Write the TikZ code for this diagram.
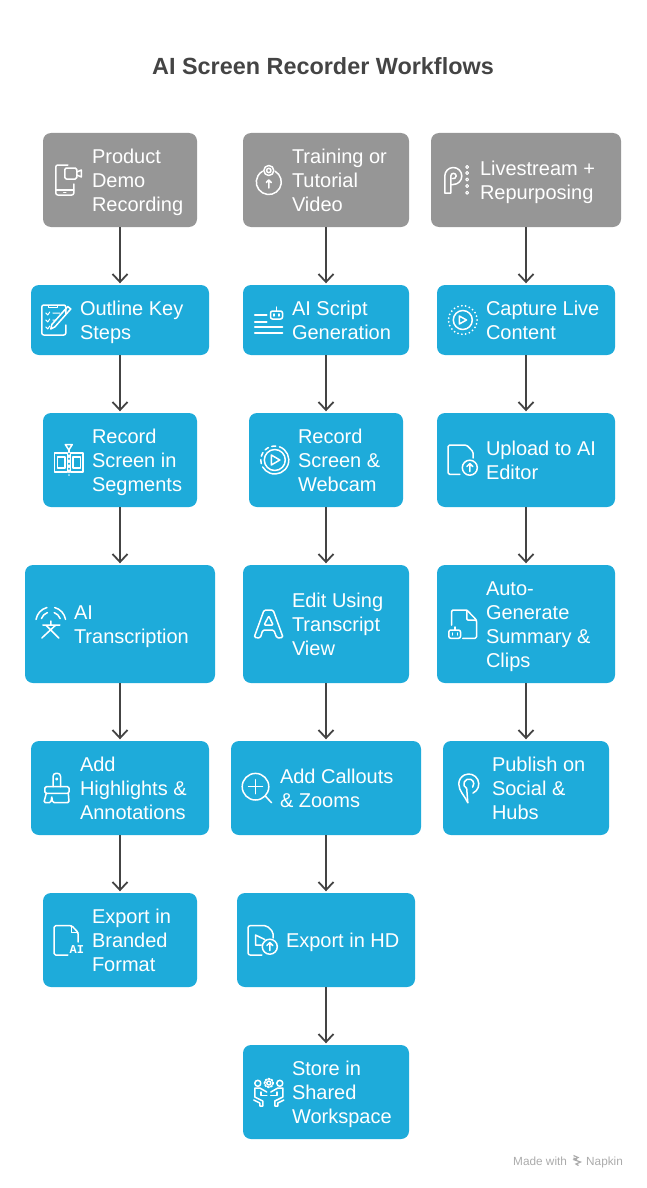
\documentclass[tikz,border=0pt]{standalone}
\usepackage{fontspec}
\setmainfont{Liberation Sans}
\setmonofont{Liberation Mono}
\usetikzlibrary{positioning,arrows.meta}
\definecolor{stepblue}{HTML}{1EABDA}
\definecolor{headgray}{HTML}{969696}
\definecolor{inkgray}{HTML}{444444}
\definecolor{markgray}{HTML}{ABABAB}

\tikzset{
    head/.style 2 args={rectangle, rounded corners=8pt, fill=headgray, minimum width=#1pt, minimum height=#2pt},
    task/.style 2 args={rectangle, rounded corners=8pt, fill=stepblue, minimum width=#1pt, minimum height=#2pt},
    lbl/.style={inner sep=0, yshift=-2.7pt, text depth=4.3pt, text=white, align=left, font=\fontsize{20}{24}\selectfont},
    flow/.style={draw=inkgray, line width=1.8pt, -{Straight Barb[length=8pt,width=15pt]}, shorten >=1.5pt},
    icon/.style={draw=white, line width=1.5pt, line cap=round, line join=round},
    phonecam/.pic={
        \draw[icon, rounded corners=2pt] (-1,-15) -- (-13,-15) -- (-13,15) -- (5,15) -- (5,4);
        \draw[icon] (-13,10) -- (5,10) (-5,12.5) -- (-3,12.5);
        \draw[icon, rounded corners=1.5pt] (-4,-12) rectangle (8,-1);
        \draw[icon] (8,-8) -- (12.5,-10) -- (12.5,-3) -- (8,-5);
    },
    targetup/.pic={
        \draw[icon] (6.25,-8.8) arc (300:600:12.5);
        \draw[icon] (0,-9.5) circle[radius=5] (0,-9.5) circle[radius=2.2];
        \draw[icon] (0,8) -- (0,0) (-2.5,2.5) -- (0,0) -- (2.5,2.5);
    },
    letterp/.pic={
        \draw[icon] (-12,13) -- (-12,-4) arc (180:360:8.5) arc (0:90:8.5) -- (-6,4.5);
        \draw[icon] (-12,13) -- (-6,13) -- (-6,-4) arc (180:360:2.7) arc (0:110:2.7);
        \foreach \y in {-13,-7,-0.5,6,12.7}
            \draw[icon, line width=1pt] (10.3,\y) circle[radius=1.5];
    },
    checkpen/.pic={
        \draw[icon, rounded corners=2pt] (9,-6) -- (9,-15) -- (-15,-15) -- (-15,15) -- (9,15) -- (9,5);
        \draw[icon, line width=1pt] (-8,-15) rectangle (1,-12.5);
        \draw[icon, line width=1pt] (-11,-7) -- (-9,-5) -- (-7,-8) (-4,-7) -- (3,-7)
            (-11,0) -- (-9,2) -- (-7,-1) (-4,0) -- (-1,0)
            (-11,7) -- (-9,9) -- (-7,6);
        \draw[icon] (11,-13.5) -- (14,-11) -- (-2,7) -- (-6,9) -- (-5,4.5) -- cycle;
    },
    botlines/.pic={
        \draw[icon] (-14,-5) -- (-2,-5) (-14,2) -- (-2,2) (-14,7) -- (13.7,7) (-14,13) -- (13.7,13);
        \draw[icon, rounded corners=2pt] (1.7,-9) rectangle (13.7,-1);
        \draw[icon] (7.7,-13) -- (7.7,-9) (5,-6) -- (5,-4) (10.4,-6) -- (10.4,-4);
    },
    liveplay/.pic={
        \draw[icon, line width=2pt, dash pattern=on 0pt off 3.9pt] (0,0) circle[radius=14.3];
        \draw[icon] (0,0) circle[radius=9.5];
        \draw[icon] (-3.5,-4) -- (-3.5,4) -- (3.7,0) -- cycle;
    },
    filmcut/.pic={
        \draw[icon] (-14.3,-7) rectangle (-1.5,12) (1.5,-7) rectangle (14.3,12);
        \draw[icon] (-11.5,-3) rectangle (-4,8) (4,-3) rectangle (11.5,8);
        \draw[icon, dash pattern=on 2.5pt off 2.5pt] (0,-10) -- (0,15);
        \draw[icon] (-3.5,-15.5) -- (3.5,-15.5) -- (0,-10) -- cycle;
    },
    signalword/.pic={
        \draw[icon] (-8,1) -- (9,1) (0,-3) -- (0,1) (-5,1) -- (8,14) (5,1) -- (-9,14);
        \draw[icon] (0,-2) ++(190:15) arc (190:255:15) (0,-2) ++(285:15) arc (285:350:15);
        \draw[icon] (0,-2) ++(200:10) arc (200:250:10) (0,-2) ++(290:10) arc (290:340:10);
    },
    ringplay/.pic={
        \draw[icon] (0,0) circle[radius=10.5];
        \draw[icon] (0,0) ++(-70:14) arc (-70:150:14);
        \draw[icon, dash pattern=on 4pt off 3.5pt] (0,0) ++(165:14) arc (165:280:14);
        \draw[icon] (-3.5,-5) -- (-3.5,5) -- (5,0) -- cycle;
    },
    lettera/.pic={
        \draw[icon, rounded corners=1.5pt] (-14.7,13.5) -- (-4.7,-14) -- (4.3,-14) -- (14.3,13.5) -- (8,14) -- (5,6) -- (-6,6) -- (-8.5,14) -- cycle;
        \draw[icon, rounded corners=1pt] (-4.7,1) -- (4.3,1) -- (0,-8) -- cycle;
    },
    docup/.pic={
        \draw[icon, rounded corners=1.5pt] (-3,14.3) -- (-14.7,14.3) -- (-14.7,-15) -- (3.7,-15) -- (10.3,-8.3) -- (10.3,-2);
        \draw[icon] (7,7.7) circle[radius=7.5];
        \draw[icon] (7,11.5) -- (7,3.5) (4,6.5) -- (7,3.5) -- (10,6.5);
    },
    docbot/.pic={
        \draw[icon, rounded corners=1.5pt] (-11.3,1) -- (-11.3,-14) -- (4,-14) -- (13.7,-4) -- (13.7,14.3) -- (0,14.3);
        \draw[icon, rounded corners=1pt] (4,-14) -- (4,-4) -- (13.7,-4);
        \draw[icon, rounded corners=2pt] (-14,6) rectangle (-2.3,14.3);
        \draw[icon] (-8,3) -- (-8,6) (-10.5,9) -- (-10.5,11) (-5.5,9) -- (-5.5,11);
    },
    brush/.pic={
        \draw[icon, rounded corners=3pt] (-3.7,-1.3) -- (-3.7,-14.7) -- (3.7,-14.7) -- (3.7,-1.3);
        \draw[icon] (0,-9) circle[radius=0.8];
        \draw[icon, rounded corners=1.5pt] (-12,-1.3) rectangle (12.3,5.3);
        \draw[icon, rounded corners=1.5pt] (-10.5,5.3) -- (-13,14.7) -- (-6,14.7) -- (-5,9) (-5,9) -- (-4,14.7) -- (12.3,14.7) -- (11.5,5.3);
    },
    docai/.pic={
        \draw[icon, rounded corners=1.5pt] (-1,15) -- (-14.7,15) -- (-14.7,-14.3) -- (3,-14.3) -- (9.3,-7.5) -- (9.3,2);
        \draw[icon, line width=1pt] (3,-14.3) -- (3,-7.5) -- (9.3,-7.5);
        \node(aimark)[inner sep=0, text=white, font=\fontsize{12}{12}\selectfont\ttfamily\bfseries] at (8,9.5) {AI};
    },
    zoomplus/.pic={
        \draw[icon] (-1.3,-1.3) circle[radius=13.3];
        \draw[icon] (-8.3,-1.3) -- (5.7,-1.3) (-1.3,-8.3) -- (-1.3,5.7);
        \draw[icon] (8.5,8) -- (14.7,14.7);
    },
    docplay/.pic={
        \draw[icon, rounded corners=2pt] (-1,15) -- (-14.7,15) -- (-14.7,-14.3) -- (4,-14.3) -- (10.3,-8) -- (10.3,-2);
        \draw[icon] (7,6.7) circle[radius=7.5];
        \draw[icon] (7,10.5) -- (7,2.5) (4,5.5) -- (7,2.5) -- (10,5.5);
        \draw[icon] (-1.5,5) -- (-7.3,5) -- (-7.3,-5) -- (2,-0.5);
    },
    pinmark/.pic={
        \draw[icon] (4.2,5.06) arc (425:180:10) .. controls (-10,3) and (-4,8) .. (-1,14.7);
        \draw[icon] (-1,14.7) -- (-2.1,0.5) arc (115:400:5);
    },
    teamgear/.pic={
        \draw[icon] (0,-9) circle[radius=2];
        \draw[icon, line width=1.8pt, dash pattern=on 1.6pt off 1.6pt] (0,-9) circle[radius=4.3];
        \foreach \s in {-1,1}{
            \draw[icon] (\s*11,-8.7) circle[radius=3];
            \draw[icon] (\s*2,0) -- (\s*9,-4) -- (\s*14,-4) -- (\s*14,5) -- (\s*6,9) -- (\s*6,14) -- (\s*9,14) -- (\s*9,11) -- (\s*15,8);
            \draw[icon] (\s*2,3.5) -- (\s*8,3.5) -- (\s*8,0);
        }
    },
    napkinmark/.pic={
        \draw[draw=markgray, line width=1.2pt] (-3.5,-5) -- (1,-3) -- (-3,-0.8) -- (3.5,1.5) -- (-1,3.5) -- (1.5,5)
            (-3.5,-2.5) -- (0,-1);
    }
}

\begin{document}
\begin{tikzpicture}[x=1pt, y=-1pt]
    \useasboundingbox (0,0) rectangle (646,1188);
    % The title
    \node(title)[inner sep=0, text=inkgray, font=\fontsize{23.4}{28}\selectfont\bfseries] at (323,66) {AI Screen Recorder Workflows};

    % First column
    \node(demo)[head={154}{94}] at (120,180) {};
    \node(demotext)[lbl, right=49pt of demo.west] {Product\\Demo\\Recording};
    \pic at ([xshift=26pt]demo.west) {phonecam};
    \node(outline)[task={178}{70}] at (120,320) {};
    \node(outlinetext)[lbl, right=49pt of outline.west] {Outline Key\\Steps};
    \pic at ([xshift=26pt]outline.west) {checkpen};
    \node(segments)[task={154}{94}] at (120,460) {};
    \node(segmentstext)[lbl, right=49pt of segments.west] {Record\\Screen in\\Segments};
    \pic at ([xshift=26pt]segments.west) {filmcut};
    \node(transcribe)[task={190}{118}] at (120,624) {};
    \node(transcribetext)[lbl, right=49pt of transcribe.west] {AI\\Transcription};
    \pic at ([xshift=26pt]transcribe.west) {signalword};
    \node(highlights)[task={178}{94}] at (120,788) {};
    \node(highlightstext)[lbl, right=49pt of highlights.west] {Add\\Highlights \&\\Annotations};
    \pic at ([xshift=26pt]highlights.west) {brush};
    \node(branded)[task={154}{94}] at (120,940) {};
    \node(brandedtext)[lbl, right=49pt of branded.west] {Export in\\Branded\\Format};
    \pic at ([xshift=26pt]branded.west) {docai};

    % Second column
    \node(training)[head={166}{94}] at (326,180) {};
    \node(trainingtext)[lbl, right=49pt of training.west] {Training or\\Tutorial\\Video};
    \pic at ([xshift=26pt]training.west) {targetup};
    \node(script)[task={166}{70}] at (326,320) {};
    \node(scripttext)[lbl, right=49pt of script.west] {AI Script\\Generation};
    \pic at ([xshift=26pt]script.west) {botlines};
    \node(webcam)[task={154}{94}] at (326,460) {};
    \node(webcamtext)[lbl, right=49pt of webcam.west] {Record\\Screen \&\\Webcam};
    \pic at ([xshift=26pt]webcam.west) {ringplay};
    \node(editview)[task={166}{118}] at (326,624) {};
    \node(editviewtext)[lbl, right=49pt of editview.west] {Edit Using\\Transcript\\View};
    \pic at ([xshift=26pt]editview.west) {lettera};
    \node(callouts)[task={190}{94}] at (326,788) {};
    \node(calloutstext)[lbl, right=49pt of callouts.west] {Add Callouts\\\& Zooms};
    \pic at ([xshift=26pt]callouts.west) {zoomplus};
    \node(exporthd)[task={178}{94}] at (326,940) {};
    \node(exporthdtext)[lbl, right=49pt of exporthd.west] {Export in HD};
    \pic at ([xshift=26pt]exporthd.west) {docplay};
    \node(store)[task={166}{94}] at (326,1092) {};
    \node(storetext)[lbl, right=49pt of store.west] {Store in\\Shared\\Workspace};
    \pic at ([xshift=26pt]store.west) {teamgear};

    % Third column
    \node(livestream)[head={190}{94}] at (526,180) {};
    \node(livestreamtext)[lbl, right=49pt of livestream.west] {Livestream +\\Repurposing};
    \pic at ([xshift=26pt]livestream.west) {letterp};
    \node(capture)[task={178}{70}] at (526,320) {};
    \node(capturetext)[lbl, right=49pt of capture.west] {Capture Live\\Content};
    \pic at ([xshift=26pt]capture.west) {liveplay};
    \node(upload)[task={178}{94}] at (526,460) {};
    \node(uploadtext)[lbl, right=49pt of upload.west] {Upload to AI\\Editor};
    \pic at ([xshift=26pt]upload.west) {docup};
    \node(summary)[task={178}{118}] at (526,624) {};
    \node(summarytext)[lbl, right=49pt of summary.west] {Auto-\\Generate\\Summary \&\\Clips};
    \pic at ([xshift=26pt]summary.west) {docbot};
    \node(publish)[task={166}{94}] at (526,788) {};
    \node(publishtext)[lbl, right=49pt of publish.west] {Publish on\\Social \&\\Hubs};
    \pic at ([xshift=26pt]publish.west) {pinmark};

    % The arrows
    \foreach \a/\b in {demo/outline, outline/segments, segments/transcribe, transcribe/highlights, highlights/branded,
        training/script, script/webcam, webcam/editview, editview/callouts, callouts/exporthd, exporthd/store,
        livestream/capture, capture/upload, upload/summary, summary/publish}
        \draw[flow] (\a) -- (\b);

    % The mark
    \node(madewith)[inner sep=0, anchor=base west, text=markgray, font=\fontsize{11.8}{13}\selectfont] at (513,1165) {Made with};
    \node(napkin)[inner sep=0, anchor=base west, text=markgray, font=\fontsize{11.8}{13}\selectfont] at (586,1165) {Napkin};
    \pic at (577,1160.5) {napkinmark};
\end{tikzpicture}
\end{document}
